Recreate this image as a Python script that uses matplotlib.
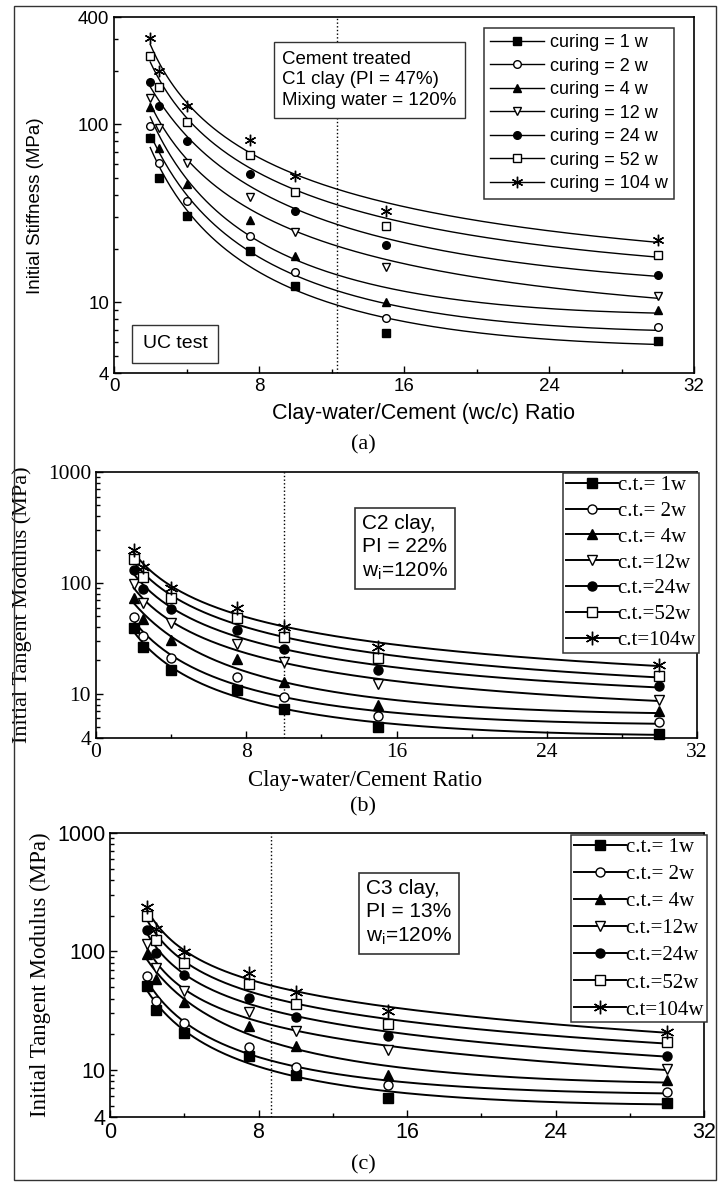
import numpy as np
import matplotlib
matplotlib.use("Agg")
import matplotlib.pyplot as plt
from matplotlib.lines import Line2D
from matplotlib.patches import Rectangle
from matplotlib.ticker import NullFormatter

# clay-water/cement ratio of the specimens (same for all three clays)
wc_ratio = [2, 2.5, 4, 7.5, 10, 15, 30]

# (a) C1 clay, initial stiffness from UC test (MPa), one row per curing time
c1_stiffness = [
    [83.4, 49.6, 30.6, 19.4, 12.3, 6.75, 6.06],    # 1 w
    [98.2, 60.3, 37.0, 23.5, 14.8, 8.16, 7.26],    # 2 w
    [124.5, 73.3, 45.9, 28.9, 18.1, 10.0, 9.09],   # 4 w
    [140, 94.9, 60.3, 39.2, 24.7, 15.7, 10.8],     # 12 w
    [172, 126, 80.6, 52.5, 32.7, 20.9, 14.3],      # 24 w
    [242, 161, 103, 67.2, 41.8, 26.8, 18.4],       # 52 w
    [305, 198, 126, 81.6, 51.4, 32.7, 22.3],       # 104 w
]

# (b) C2 clay, initial tangent modulus (MPa)
c2_modulus = [
    [39.0, 26.7, 16.5, 10.9, 7.29, 5.02, 4.38],
    [49.0, 33.3, 21.0, 14.1, 9.35, 6.26, 5.53],
    [72.6, 47.7, 30.6, 20.5, 12.8, 7.98, 6.95],
    [97.7, 65.5, 43.3, 28.2, 19.2, 12.3, 8.85],
    [131, 87.5, 57.8, 37.7, 25.2, 16.5, 11.7],
    [166, 114, 73.7, 48.7, 32.4, 21.0, 14.4],
    [200, 140, 89.4, 59.0, 40.4, 26.7, 18.2],
]

# (c) C3 clay, initial tangent modulus (MPa)
c3_modulus = [
    [51.3, 32.2, 20.5, 13.2, 8.97, 5.78, 5.28],
    [61.5, 38.4, 24.7, 15.7, 10.5, 7.39, 6.49],
    [94.7, 58.4, 37.1, 23.6, 15.8, 9.09, 8.14],
    [115, 73.1, 46.6, 30.6, 21.4, 14.6, 10.2],
    [152, 97.8, 63.1, 40.4, 28.1, 19.5, 13.2],
    [199, 125, 79.6, 53.0, 36.0, 24.4, 17.1],
    [239, 156, 99.1, 65.2, 45.6, 31.6, 21.0],
]

labels_a = ['curing = 1 w', 'curing = 2 w', 'curing = 4 w', 'curing = 12 w',
            'curing = 24 w', 'curing = 52 w', 'curing = 104 w']
labels_bc = ['c.t.= 1w', 'c.t.= 2w', 'c.t.= 4w', 'c.t.=12w',
             'c.t.=24w', 'c.t.=52w', 'c.t=104w']

# marker, filled?
markers = [('s', True), ('o', False), ('^', True), ('v', False),
           ('o', True), ('s', False), ((6, 2, 0), True)]

SANS = 'Liberation Sans'
SERIF = 'Liberation Serif'
NARROW = ['Liberation Sans Narrow', 'Liberation Sans']

W, H = 726, 1183


def fx(px):
    return px / W


def fy(py):
    return 1 - py / H


def fit_curve(x, y):
    # smooth trend through the points, cubic in log-log space
    lx, ly = np.log10(x), np.log10(y)
    coef = np.polyfit(lx, ly, 3)
    xs = np.linspace(min(x), max(x), 300)
    return xs, 10 ** np.polyval(coef, np.log10(xs))


def draw_series(ax, values, msize, lw):
    handles = []
    for row, (m, filled) in zip(values, markers):
        xs, ys = fit_curve(wc_ratio, row)
        ax.plot(xs, ys, color='black', lw=lw)
        face = 'black' if filled else 'white'
        ms = msize * 1.5 if m == (6, 2, 0) else msize
        ax.plot(wc_ratio, row, linestyle='none', marker=m, ms=ms,
                mfc=face, mec='black', mew=1.0, clip_on=False, zorder=3)
        handles.append(Line2D([], [], color='black', lw=lw, marker=m, ms=ms,
                              mfc=face, mec='black', mew=1.0))
    return handles


def setup_axes(ax, ymax, tick_font, tick_size):
    ax.set_xlim(0, 32)
    ax.set_yscale('log')
    ax.set_ylim(4, ymax)
    yt = [4, 10, 100, ymax]
    ax.set_yticks(yt)
    ax.set_yticklabels([str(v) for v in yt])
    ax.yaxis.set_minor_formatter(NullFormatter())
    ax.set_xticks([0, 8, 16, 24, 32])
    ax.set_xticks([4, 12, 20, 28], minor=True)
    ax.tick_params(which='both', direction='in', top=False, right=False)
    ax.tick_params(which='major', length=5, width=1)
    ax.tick_params(which='minor', length=3, width=1)
    for lab in ax.get_xticklabels() + ax.get_yticklabels():
        lab.set_fontfamily(tick_font)
        lab.set_fontsize(tick_size)
    for sp in ax.spines.values():
        sp.set_linewidth(1.2)


def add_legend(ax, handles, labels, left, top, family, size, **kw):
    leg = ax.legend(handles, labels, loc='upper left',
                    bbox_to_anchor=(fx(left), fy(top)),
                    bbox_transform=fig.transFigure,
                    prop={'family': family, 'size': size},
                    fancybox=False, edgecolor='#333333', framealpha=1,
                    borderaxespad=0, **kw)
    leg.get_frame().set_linewidth(1.1)
    return leg


fig = plt.figure(figsize=(W / 100, H / 100), dpi=100)

# outer frame round the whole figure
fig.patches.append(Rectangle((fx(14), fy(1180)), fx(716) - fx(14), fy(6) - fy(1180),
                             transform=fig.transFigure, fill=False,
                             edgecolor='#333333', lw=1.0))

# ---- (a) C1 clay
ax1 = fig.add_axes([fx(114), fy(373), fx(694) - fx(114), fy(17) - fy(373)])
h1 = draw_series(ax1, c1_stiffness, 5.5, 1.0)
setup_axes(ax1, 400, SANS, 13.5)
ax1.axvline(12.3, color='black', ls=':', lw=1.0)
ax1.set_ylabel('Initial Stiffness (MPa)', fontfamily=SANS, fontsize=13.5)
ax1.yaxis.set_label_coords(-0.12, 0.47)
ax1.set_xlabel('Clay-water/Cement (wc/c) Ratio', fontfamily=SANS, fontsize=15.5)
ax1.xaxis.set_label_coords(0.533, -0.085)
add_legend(ax1, h1, labels_a, 484, 28, SANS, 13, borderpad=0.35,
           labelspacing=0.36, handlelength=3.0, handletextpad=0.3)
fig.text(fx(282), fy(80), 'Cement treated\nC1 clay (PI = 47%)\nMixing water = 120%',
         ha='left', va='center', fontfamily=SANS, fontsize=13.5, linespacing=1.3,
         bbox=dict(boxstyle='square,pad=0.45', fc='white', ec='#333333', lw=1.0))
fig.text(fx(175), fy(344), 'UC test', ha='center', va='center',
         fontfamily=SANS, fontsize=14,
         bbox=dict(boxstyle='square,pad=0.55', fc='white', ec='#333333', lw=1.0))
fig.text(0.5, fy(445), '(a)', ha='center', va='center', fontfamily=SERIF, fontsize=16)

# ---- (b) C2 clay
ax2 = fig.add_axes([fx(96), fy(738), fx(697) - fx(96), fy(472) - fy(738)])
h2 = draw_series(ax2, c2_modulus, 6.5, 1.4)
setup_axes(ax2, 1000, SERIF, 15.5)
ax2.axvline(10, color='black', ls=':', lw=1.0)
ax2.set_ylabel('Initial Tangent Modulus (MPa)', fontfamily=SERIF, fontsize=16)
ax2.yaxis.set_label_coords(-0.106, 0.5)
ax2.set_xlabel('Clay-water/Cement Ratio', fontfamily=SERIF, fontsize=16.5)
ax2.xaxis.set_label_coords(0.448, -0.12)
add_legend(ax2, h2, labels_bc, 563, 473, SERIF, 15, borderpad=0.12,
           labelspacing=0.3, handlelength=2.5, handletextpad=0.0)
fig.text(fx(362), fy(548), 'C2 clay,\nPI = 22%\nw$\\mathregular{_i}$=120%',
         ha='left', va='center', fontfamily=NARROW, fontsize=15, linespacing=1.25,
         bbox=dict(boxstyle='square,pad=0.35', fc='white', ec='#333333', lw=1.2))
fig.text(0.5, fy(807), '(b)', ha='center', va='center', fontfamily=SERIF, fontsize=16)

# ---- (c) C3 clay
ax3 = fig.add_axes([fx(110), fy(1117), fx(704) - fx(110), fy(833) - fy(1117)])
h3 = draw_series(ax3, c3_modulus, 6.5, 1.4)
setup_axes(ax3, 1000, SANS, 15.5)
ax3.axvline(8.7, color='black', ls=':', lw=1.0)
ax3.set_ylabel('Initial Tangent Modulus (MPa)', fontfamily=SERIF, fontsize=16.5)
ax3.yaxis.set_label_coords(-0.099, 0.5)
add_legend(ax3, h3, labels_bc, 571, 835, SERIF, 15, borderpad=0.12,
           labelspacing=0.36, handlelength=2.5, handletextpad=0.0)
fig.text(fx(366), fy(913), 'C3 clay,\nPI = 13%\nw$\\mathregular{_i}$=120%',
         ha='left', va='center', fontfamily=NARROW, fontsize=15, linespacing=1.25,
         bbox=dict(boxstyle='square,pad=0.35', fc='white', ec='#333333', lw=1.2))
fig.text(0.5, fy(1165), '(c)', ha='center', va='center', fontfamily=SERIF, fontsize=16)

fig.savefig('out.png', dpi=100)
